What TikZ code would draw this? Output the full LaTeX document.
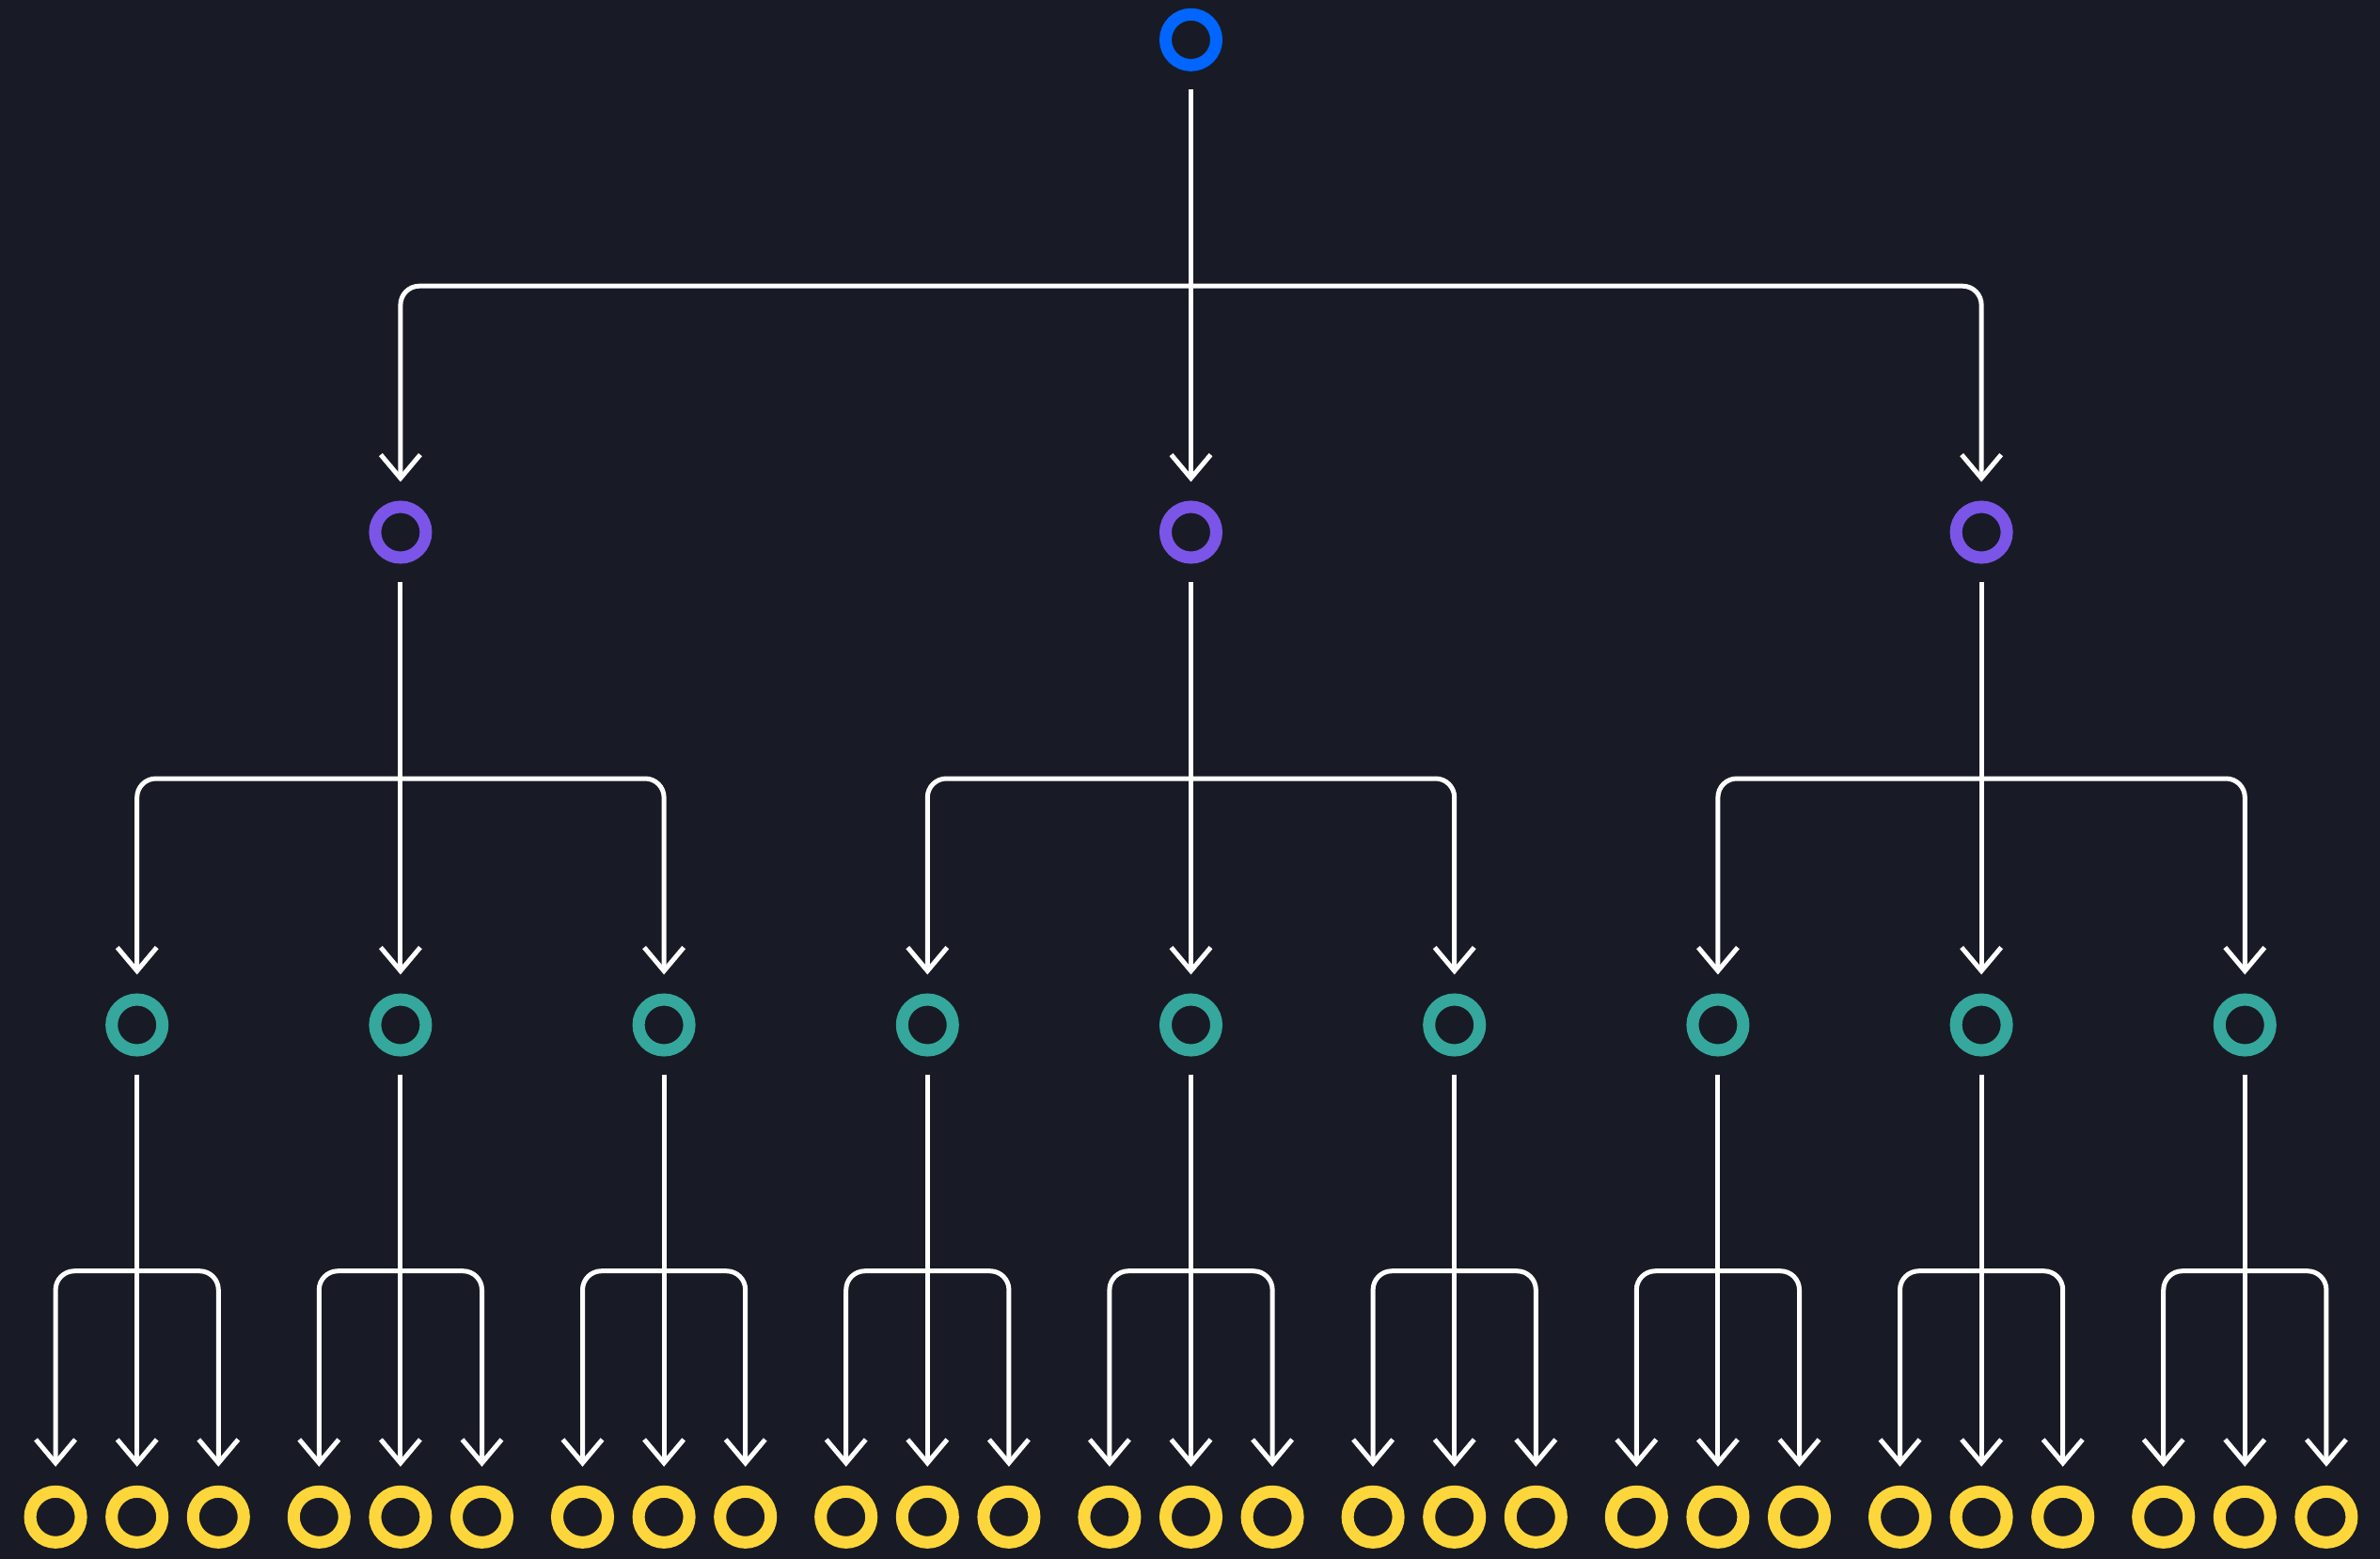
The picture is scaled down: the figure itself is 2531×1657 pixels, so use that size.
\documentclass[tikz,border=0pt]{standalone}
\usetikzlibrary{arrows.meta}
\definecolor{bgdark}{HTML}{181B25}
\definecolor{rootblue}{HTML}{0066FF}
\definecolor{midpurple}{HTML}{7B55E8}
\definecolor{teal}{HTML}{35A79C}
\definecolor{leafyellow}{HTML}{FDD63B}
\begin{document}
\begin{tikzpicture}[x=0.01cm,y=-0.01cm,
  ring/.style={circle,draw=#1,line width=0.13cm,minimum size=0.54cm,inner sep=0pt,outer sep=0.065cm},
  conn/.style={white,line width=0.05cm,rounded corners=0.2cm,
    shorten <=0.19cm,shorten >=0.2cm,
    -{Straight Barb[length=0.25cm,width=0.42cm,line join=miter]}},
  fork/.style={white,line width=0.05cm,rounded corners=0.2cm,shorten >=0.2cm,
    -{Straight Barb[length=0.25cm,width=0.42cm,line join=miter]}}]
  % canvas: the bounding box is fixed first, the dark fill bleeds past it
  \useasboundingbox (0,0) rectangle (2531,1657);
  \fill[bgdark] (-10,-10) rectangle (2541,1667);

  % levels: root, three mid nodes, nine teal nodes, 27 leaves
  \node[ring=rootblue] (r) at (1266.5,42.3) {};
  \coordinate (b0) at (0,304.2);
  \coordinate (b1) at (0,828);
  \coordinate (b2) at (0,1351.7);

  \foreach \i in {1,2,3}{
    \node[ring=midpurple] (m\i) at ({1266.5+(\i-2)*840.6},566) {};
  }
  \foreach \j in {1,...,9}{
    \node[ring=teal] (t\j) at ({1266.5+(\j-5)*280.2},1090) {};
    \foreach \s in {1,2,3}{
      \pgfmathtruncatemacro{\k}{3*(\j-1)+\s}
      \node[ring=leafyellow] (l\k) at ({1266.5+(\j-5)*280.2+(\s-2)*86.6},1613.3) {};
    }
  }

  % root to mid level
  \draw[conn] (r.south) -- (m2.north);
  \draw[fork] (r |- b0) -| (m1.north);
  \draw[fork] (r |- b0) -| (m3.north);

  % mid level to teal level
  \foreach \i in {1,2,3}{
    \pgfmathtruncatemacro{\a}{3*(\i-1)+1}
    \pgfmathtruncatemacro{\b}{3*(\i-1)+2}
    \pgfmathtruncatemacro{\c}{3*(\i-1)+3}
    \draw[conn] (m\i.south) -- (t\b.north);
    \draw[fork] (m\i |- b1) -| (t\a.north);
    \draw[fork] (m\i |- b1) -| (t\c.north);
  }

  % teal level to leaves
  \foreach \j in {1,...,9}{
    \pgfmathtruncatemacro{\a}{3*(\j-1)+1}
    \pgfmathtruncatemacro{\b}{3*(\j-1)+2}
    \pgfmathtruncatemacro{\c}{3*(\j-1)+3}
    \draw[conn] (t\j.south) -- (l\b.north);
    \draw[fork] (t\j |- b2) -| (l\a.north);
    \draw[fork] (t\j |- b2) -| (l\c.north);
  }
\end{tikzpicture}
\end{document}
